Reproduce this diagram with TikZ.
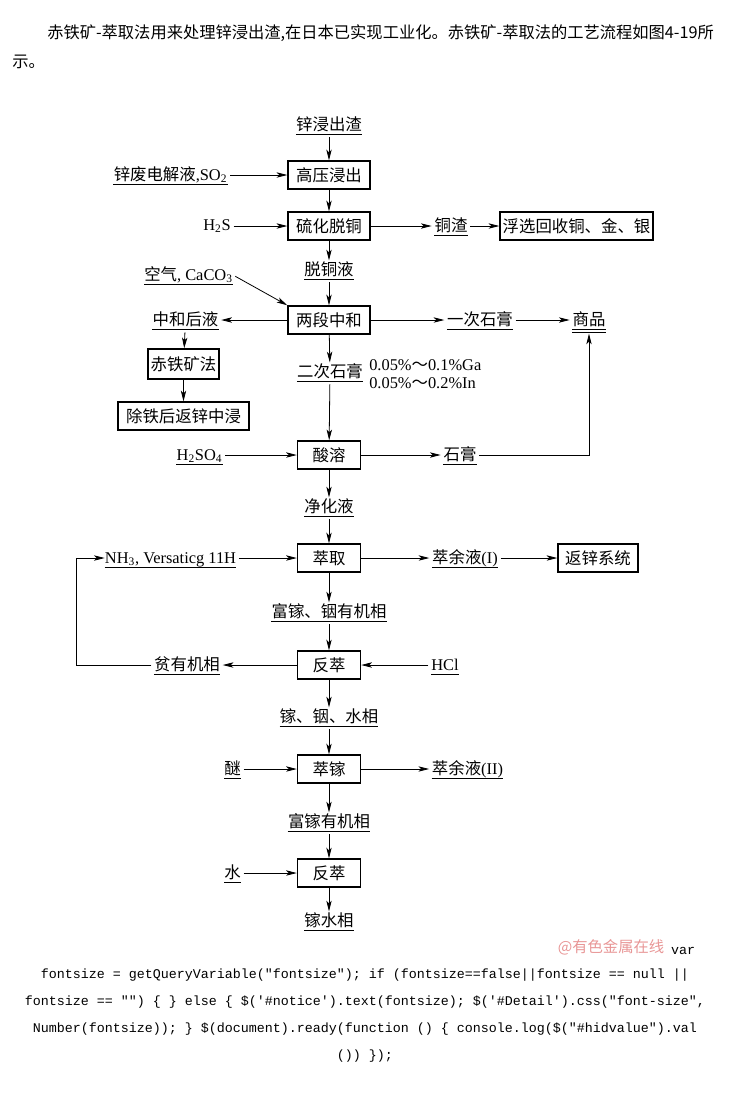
\documentclass[tikz,border=0pt]{standalone}
\usepackage{fontspec}
\usepackage{xcolor}
\usepackage{tikz}
\usetikzlibrary{arrows.meta,positioning}
\setmainfont{Liberation Serif}
\newfontfamily\zh{Noto Sans CJK SC}
\newfontfamily\codigo{Liberation Mono}
\definecolor{marca}{RGB}{232,150,150}
\tikzset{
  caixa/.style={rectangle, draw=black, line width=1.1pt, minimum width=61.5pt, minimum height=21pt,
    inner sep=2pt, font=\zh\fontsize{12.3}{14}\selectfont},
  rotulo/.style={inner xsep=0pt, inner ysep=1pt, text height=10pt, text depth=2pt,
    font=\zh\fontsize{12.3}{14}\selectfont,
    append after command={(\tikzlastnode.south west) edge[line width=0.9pt] (\tikzlastnode.south east)}},
  dupla/.style={append after command={([yshift=-2.4pt]\tikzlastnode.south west) edge[line width=0.9pt] ([yshift=-2.4pt]\tikzlastnode.south east)}},
  texto/.style={inner sep=0pt, font=\fontsize{12.3}{13.5}\selectfont},
  pagina/.style={inner sep=0pt, anchor=west, font=\zh\fontsize{12.2}{14}\selectfont},
  linha/.style={inner sep=0pt, font=\codigo\fontsize{10}{12}\selectfont},
  seta/.style={-{Stealth[length=8pt,width=4pt,inset=2pt]}, line width=0.6pt}
}
\begin{document}
\begin{tikzpicture}[x=0.75pt,y=-0.75pt]
\useasboundingbox (0,0) rectangle (730,1104);
\node[pagina] (t1) at (47,33) {赤铁矿-萃取法用来处理锌浸出渣,在日本已实现工业化。赤铁矿-萃取法的工艺流程如图4-19所};
\node[pagina] (t2) at (12,62) {示。};
\node[rotulo] (a) at (329,125) {锌浸出渣};
\node[caixa] (b) at (329,175) {高压浸出};
\node[rotulo] (b1) at (170.5,175) {锌废电解液{\rmfamily ,SO\textsubscript{2}}};
\node[caixa] (c) at (329,226) {硫化脱铜};
\node[texto] (c1) at (217,226) {H\textsubscript{2}S};
\node[rotulo] (c2) at (451,226) {铜渣};
\node[caixa, minimum width=114.75pt] (c3) at (576.5,226) {浮选回收铜、金、银};
\node[rotulo] (d) at (329,270) {脱铜液};
\node[rotulo] (d1) at (188.5,275) {空气{\rmfamily , CaCO\textsubscript{3}}};
\node[caixa] (e) at (329,320) {两段中和};
\node[rotulo] (e1) at (185.5,320) {中和后液};
\node[rotulo] (e2) at (480,320) {一次石膏};
\node[rotulo, dupla] (e3) at (589,320) {商品};
\node[caixa, minimum width=53.25pt, minimum height=22.5pt] (f) at (183.5,364) {赤铁矿法};
\node[caixa, minimum width=98.25pt] (g) at (183.5,416) {除铁后返锌中浸};
\node[rotulo] (h) at (330,372) {二次石膏};
\node[texto, anchor=west, align=left] (h1) at (369,374) {0.05\%{\zh ～}0.1\%Ga\\0.05\%{\zh ～}0.2\%In};
\node[caixa, minimum width=47.25pt] (i) at (329,455) {酸溶};
\node[rotulo] (i1) at (199.5,455) {\rmfamily H\textsubscript{2}SO\textsubscript{4}};
\node[rotulo] (i2) at (460,455) {石膏};
\node[rotulo] (j) at (329,507) {净化液};
\node[caixa, minimum width=47.25pt] (k) at (329,558) {萃取};
\node[rotulo] (k1) at (170.5,558) {\rmfamily NH\textsubscript{3}, Versaticg 11H};
\node[rotulo] (k2) at (465,558) {萃余液{\rmfamily (I)}};
\node[caixa, minimum width=60pt] (k3) at (598,558) {返锌系统};
\node[rotulo] (l) at (329,612) {富镓、铟有机相};
\node[caixa, minimum width=47.25pt] (m) at (329,665) {反萃};
\node[rotulo] (m1) at (187,665) {贫有机相};
\node[rotulo] (m2) at (445,665) {\rmfamily HCl};
\coordinate (volta) at (76,665);
\node[rotulo] (n) at (329,717) {镓、铟、水相};
\node[caixa, minimum width=47.25pt] (o) at (329,769) {萃镓};
\node[rotulo] (o1) at (232.5,769) {醚};
\node[rotulo] (o2) at (467.5,769) {萃余液{\rmfamily (II)}};
\node[rotulo] (p) at (329,822) {富镓有机相};
\node[caixa, minimum width=47.25pt] (q) at (329,873) {反萃};
\node[rotulo] (q1) at (232.5,873) {水};
\node[rotulo] (r) at (329,921) {镓水相};
\node[inner sep=0pt, text=marca, font=\zh\fontsize{11.5}{13}\selectfont] (wm) at (611,947) {@有色金属在线};
\node[linha] (v) at (683,951) {var};
\node[linha] (l1) at (365,975) {fontsize = getQueryVariable("fontsize"); if (fontsize==false||fontsize == null ||};
\node[linha] (l2) at (365,1002) {fontsize == "") \{ \} else \{ \$('\#notice').text(fontsize); \$('\#Detail').css("font-size",};
\node[linha] (l3) at (365,1029) {Number(fontsize)); \} \$(document).ready(function () \{ console.log(\$("\#hidvalue").val};
\node[linha] (l4) at (365,1056) {()) \});};
\draw[seta, shorten <=2pt] (a)--(b); \draw[seta, shorten <=2pt] (b1)--(b); \draw[seta] (b)--(c);
\draw[seta, shorten <=2pt] (c1)--(c); \draw[seta, shorten >=2pt] (c)--(c2); \draw[seta, shorten <=2pt] (c2)--(c3);
\draw[seta] (c)--(d); \draw[seta, shorten <=2pt] (d)--(e); \draw[seta, shorten <=2pt] (d1.east)--(e.north west);
\draw[seta, shorten >=2pt] (e)--(e1); \draw[seta, shorten >=2pt] (e)--(e2); \draw[seta, shorten <=2pt, shorten >=2pt] (e2)--(e3);
\draw[seta, shorten <=2pt] (e1)--(f); \draw[seta] (f)--(g); \draw[seta] (e)--(h);
\draw[seta, shorten <=2pt] (h)--(i); \draw[seta, shorten <=2pt] (i1)--(i); \draw[seta, shorten >=2pt] (i)--(i2);
\draw[seta, shorten <=2pt, shorten >=3pt] (i2)-|(e3);
\draw[seta] (i)--(j); \draw[seta, shorten <=2pt] (j)--(k); \draw[seta, shorten <=2pt] (k1)--(k);
\draw[seta, shorten >=2pt] (k)--(k2); \draw[seta, shorten <=2pt] (k2)--(k3); \draw[seta] (k)--(l);
\draw[seta, shorten <=2pt] (l)--(m); \draw[seta, shorten <=2pt] (m2)--(m); \draw[seta, shorten >=2pt] (m)--(m1);
\draw[seta, shorten <=2pt] (m1)--(volta)|-(k1);
\draw[seta] (m)--(n); \draw[seta, shorten <=2pt] (n)--(o); \draw[seta, shorten <=2pt] (o1)--(o);
\draw[seta, shorten >=2pt] (o)--(o2); \draw[seta] (o)--(p); \draw[seta, shorten <=2pt] (p)--(q);
\draw[seta, shorten <=2pt] (q1)--(q); \draw[seta] (q)--(r);
\end{tikzpicture}
\end{document}
